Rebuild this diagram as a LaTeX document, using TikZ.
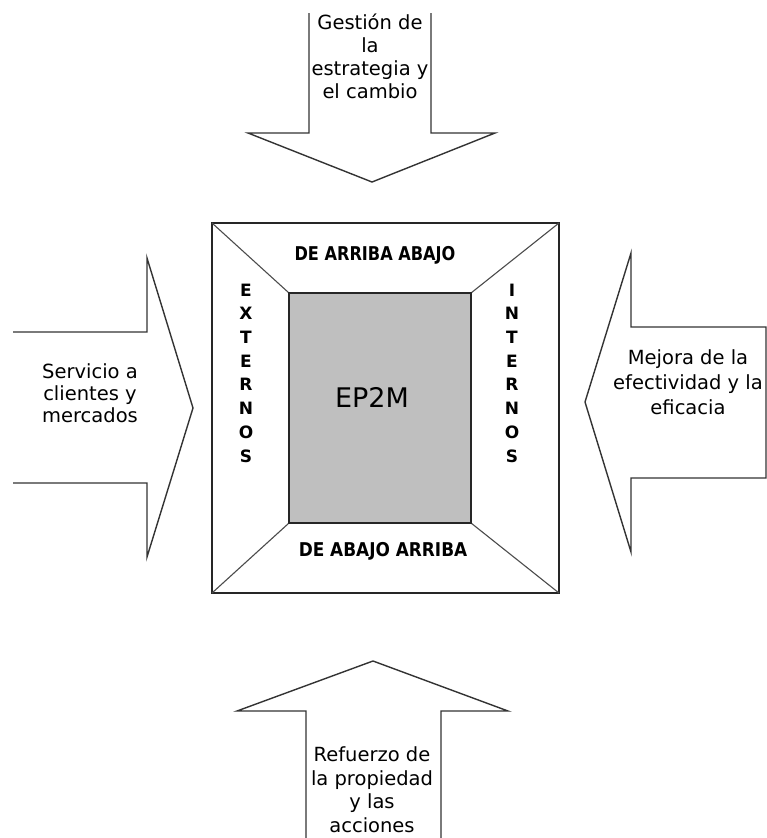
\documentclass[tikz,border=0pt]{standalone}
\usepackage{fontspec}
\setmainfont{DejaVu Sans}
\usepackage{graphicx}
\begin{document}
\begin{tikzpicture}[x=1pt,y=-1pt,
  arrowshape/.style={draw=black!80,line width=1.4pt,line join=miter,fill=white},
  boxline/.style={draw=black!85,line width=1.6pt},
  diag/.style={draw=black!70,line width=1.1pt},
  armtext/.style={align=center,anchor=base,inner sep=0pt,font=\fontsize{19.5}{23}\selectfont},
  bandtext/.style={anchor=base,inner sep=0pt,font=\bfseries\fontsize{19}{19}\selectfont},
  sidetext/.style={align=center,anchor=base,inner sep=0pt,font=\bfseries\fontsize{17}{23.7}\selectfont},
  coretext/.style={anchor=base,inner sep=0pt,font=\fontsize{27}{27}\selectfont}]
\useasboundingbox (0,0) rectangle (767,838);
% arrows
\draw[arrowshape] (309,13) -- (309,133) -- (248,133) -- (372,182) -- (495,133) -- (431,133) -- (431,13);
\draw[arrowshape] (13,332) -- (147,332) -- (147,258) -- (193,408) -- (147,557) -- (147,483) -- (13,483);
\draw[arrowshape] (766,327) -- (631,327) -- (631,253) -- (585,402) -- (631,552) -- (631,478) -- (766,478) -- cycle;
\draw[arrowshape] (306,838) -- (306,711) -- (237,711) -- (373,661) -- (508,711) -- (441,711) -- (441,838);
% frame
\coordinate (o1) at (212,223); \coordinate (o2) at (559,223);
\coordinate (o3) at (559,593); \coordinate (o4) at (212,593);
\coordinate (i1) at (289,293); \coordinate (i2) at (471,293);
\coordinate (i3) at (471,523); \coordinate (i4) at (289,523);
\draw[boxline,fill=white] (o1) -- (o2) -- (o3) -- (o4) -- cycle;
\draw[diag] (o1) -- (i1) (o2) -- (i2) (o3) -- (i3) (o4) -- (i4);
\draw[boxline,fill=black!25] (i1) -- (i2) -- (i3) -- (i4) -- cycle;
% texts (anchor = baseline of the last line)
\node[armtext,font=\fontsize{19.5}{22.7}\selectfont] (tTop) at (370,98) {Gestión de\\la\\estrategia y\\el cambio};
\node[armtext,font=\fontsize{19.5}{21.7}\selectfont] (tLeft) at (90,422) {Servicio a\\clientes y\\mercados};
\node[armtext,font=\fontsize{19.5}{25}\selectfont] (tRight) at (688,414) {Mejora de la\\efectividad y la\\eficacia};
\node[armtext,font=\fontsize{19.5}{23.5}\selectfont] (tBot) at (372,832) {Refuerzo de\\la propiedad\\y las\\acciones};
\node[bandtext] (up) at (375,260) {\scalebox{0.85}[1]{DE ARRIBA ABAJO}};
\node[bandtext] (down) at (383,556) {\scalebox{0.89}[1]{DE ABAJO ARRIBA}};
\node[sidetext] (ext) at (246,462) {E\\X\\T\\E\\R\\N\\O\\S};
\node[sidetext] (int) at (512,462) {I\\N\\T\\E\\R\\N\\O\\S};
\node[coretext] (core) at (372,407) {EP2M};
\end{tikzpicture}
\end{document}
